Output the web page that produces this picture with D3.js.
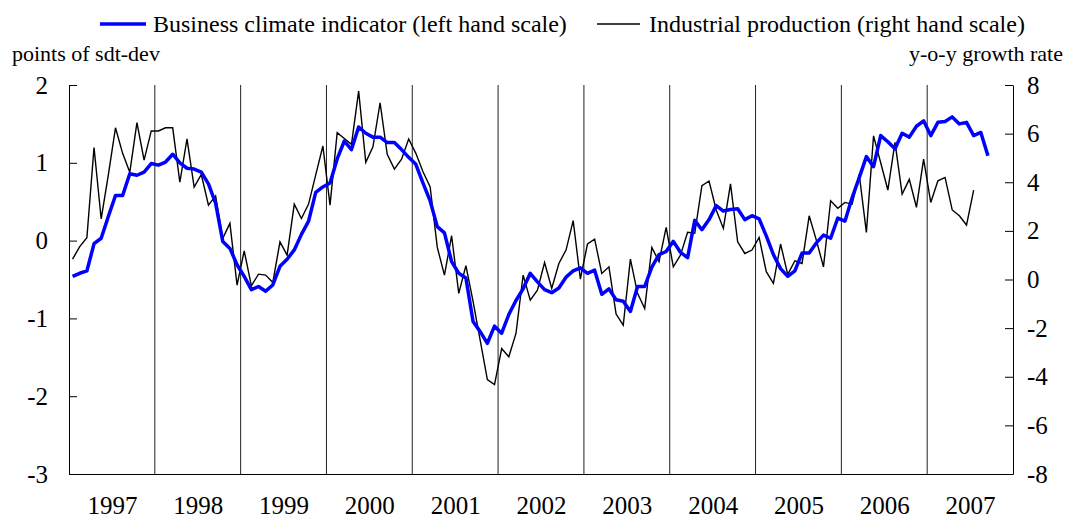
<!DOCTYPE html>
<html><head><meta charset="utf-8">
<script src="https://cdn.jsdelivr.net/npm/d3@7"></script>
<style>body{margin:0;background:#fff}svg{display:block}text{font-family:"Liberation Serif","Times New Roman",serif;fill:#000}</style>
</head><body><svg id="c" width="1067" height="525"></svg>
<script>
const years = ["1997","1998","1999","2000","2001","2002","2003","2004","2005","2006","2007"];
const leftTicks = [-3,-2,-1,0,1,2];
const rightTicks = [-8,-6,-4,-2,0,2,4,6,8];
// Business climate indicator, monthly from Jan 1997 (left scale)
const businessClimate = [-0.46,-0.42,-0.39,-0.04,0.03,0.31,0.58,0.58,0.86,0.84,0.88,0.99,
0.97,1.01,1.11,1.00,0.93,0.92,0.88,0.73,0.48,-0.01,-0.10,-0.31,
-0.46,-0.63,-0.59,-0.65,-0.57,-0.33,-0.24,-0.12,0.08,0.25,0.62,0.69,
0.74,1.05,1.28,1.17,1.46,1.38,1.33,1.33,1.26,1.26,1.17,1.07,
0.98,0.74,0.51,0.18,0.10,-0.27,-0.42,-0.48,-1.04,-1.17,-1.32,-1.10,
-1.19,-0.95,-0.77,-0.62,-0.42,-0.53,-0.63,-0.67,-0.61,-0.47,-0.39,-0.35,
-0.42,-0.38,-0.69,-0.62,-0.76,-0.78,-0.91,-0.59,-0.59,-0.34,-0.18,-0.14,
-0.01,-0.15,-0.22,0.26,0.14,0.27,0.45,0.38,0.40,0.41,0.27,0.32,
0.28,0.06,-0.18,-0.36,-0.46,-0.39,-0.16,-0.16,-0.03,0.07,0.03,0.29,
0.25,0.55,0.81,1.08,0.95,1.35,1.27,1.18,1.38,1.33,1.47,1.54,
1.35,1.52,1.53,1.59,1.50,1.52,1.35,1.39,1.09];
// Industrial production, y-o-y growth rate, monthly from Jan 1997 (right scale)
const industrialProduction = [0.84,1.35,1.72,5.43,2.49,4.3,6.24,5.19,4.41,6.45,4.91,6.11,
6.11,6.24,6.24,4.00,5.78,3.80,4.32,3.06,3.44,1.69,2.31,-0.23,
1.18,-0.26,0.22,0.18,-0.12,1.55,1.00,3.10,2.51,3.10,4.3,5.49,
3.06,6.04,5.8,5.56,7.75,4.82,5.46,7.27,5.15,4.54,4.95,5.78,
5.19,4.43,3.81,1.32,0.18,1.80,-0.57,0.57,-0.9,-2.5,-4.12,-4.32,
-2.84,-3.18,-2.22,0.18,-0.85,-0.44,0.70,-0.37,0.66,1.21,2.42,0.02,
1.46,1.66,0.25,0.52,-1.42,-1.88,0.84,-0.57,-1.19,1.32,0.73,2.14,
0.52,1.00,1.94,1.90,3.86,4.05,2.86,2.10,3.93,1.55,1.07,1.21,
1.73,0.32,-0.16,1.46,0.21,0.77,0.66,2.62,1.62,0.52,3.24,2.93,
3.17,3.10,4.32,1.94,5.91,4.80,3.68,5.64,3.51,4.12,2.97,4.95,
3.17,4.06,4.20,2.86,2.62,2.24,3.68];

const svg = d3.select("#c");
const L = 69, R = 1013, T = 85, B = 474;
const x = d3.scaleLinear().domain([0, years.length*12]).range([L, R]);
const yL = d3.scaleLinear().domain([-3, 2]).range([B, T]);
const yR = d3.scaleLinear().domain([-8, 8]).range([B, T]);
const fmt = d => String(d);

// year separator lines
svg.append("g").selectAll("line").data(d3.range(1, years.length)).join("line")
  .attr("x1", d => x(d*12)).attr("x2", d => x(d*12))
  .attr("y1", T).attr("y2", B).attr("stroke", "#222").attr("stroke-width", 1);

// bottom axis line + year labels
const gx = svg.append("g").attr("transform", `translate(0,${B})`)
  .call(d3.axisBottom(x).tickValues(years.map((y,i)=>i*12+6)).tickFormat((d,i)=>years[i]).tickSize(0).tickPadding(22));
gx.select(".domain").attr("stroke", "#000");
gx.selectAll("text").style("font-size", "25px").attr("fill","#000");

const gl = svg.append("g").attr("transform", `translate(${L},0)`)
  .call(d3.axisLeft(yL).tickValues(leftTicks).tickSizeInner(-8).tickSizeOuter(0).tickPadding(21).tickFormat(fmt));
gl.selectAll("text").style("font-size", "25px").attr("fill","#000");
gl.selectAll("line,.domain").attr("stroke", "#000");

const gr = svg.append("g").attr("transform", `translate(${R},0)`)
  .call(d3.axisRight(yR).tickValues(rightTicks).tickSizeInner(-8).tickSizeOuter(0).tickPadding(14).tickFormat(fmt));
gr.selectAll("text").style("font-size", "25px").attr("fill","#000");
gr.selectAll("line,.domain").attr("stroke", "#000");

// lines
const lineR = d3.line().x((d,i)=>x(i+0.5)).y(d=>yR(d));
const lineL = d3.line().x((d,i)=>x(i+0.5)).y(d=>yL(d));
svg.append("path").datum(industrialProduction).attr("d", lineR)
  .attr("fill","none").attr("stroke","#000").attr("stroke-width",1.4).attr("stroke-linejoin","miter");
svg.append("path").datum(businessClimate).attr("d", lineL)
  .attr("fill","none").attr("stroke","#0000ff").attr("stroke-width",3.5).attr("stroke-linejoin","round");

// axis titles
svg.append("text").attr("x", 12).attr("y", 61).style("font-size","22px").text("points of sdt-dev");
svg.append("text").attr("x", 1063).attr("y", 61).attr("text-anchor","end").style("font-size","22px").text("y-o-y growth rate");

// legend
const lg = svg.append("g");
lg.append("line").attr("x1",100).attr("x2",146).attr("y1",24).attr("y2",24).attr("stroke","#0000ff").attr("stroke-width",3.5);
lg.append("text").attr("x",153).attr("y",32).style("font-size","24px").text("Business climate indicator (left hand scale)");
lg.append("line").attr("x1",597).attr("x2",640).attr("y1",24).attr("y2",24).attr("stroke","#000").attr("stroke-width",1.4);
lg.append("text").attr("x",649).attr("y",32).style("font-size","24px").text("Industrial production (right hand scale)");
</script></body></html>
